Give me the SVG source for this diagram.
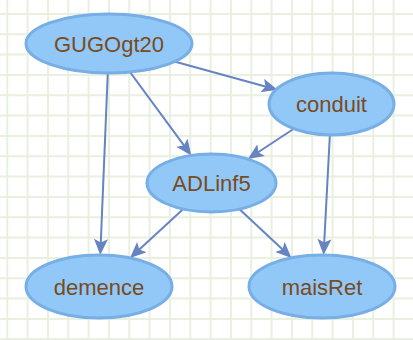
<svg xmlns="http://www.w3.org/2000/svg" width="413" height="340" viewBox="0 0 413 340">
<style>
.grid{stroke:#e9f0df;stroke-width:2;fill:none}
.node ellipse{fill:#92c8f8;stroke:#77aee5;stroke-width:3}
.node text{font-family:"Liberation Sans",Arial,sans-serif;font-size:22px;fill:#7a4b1c;text-anchor:middle}
.edge{stroke:#6683c2;stroke-width:2;fill:none;marker-end:url(#arrow)}
</style>
<defs>
<marker id="arrow" markerUnits="userSpaceOnUse" markerWidth="17" markerHeight="15" refX="6" refY="7" orient="auto" viewBox="0 0 17 15">
<path d="M0,0 L16,7 L0,14 L3.5,7 z" fill="#6683c2"/>
</marker>
</defs>
<rect width="413" height="340" fill="#ffffff"/>
<path class="grid" d="M7.3,0V340M27.6,0V340M48,0V340M68.3,0V340M88.6,0V340M109,0V340M129.3,0V340M149.6,0V340M170,0V340M190.3,0V340M210.6,0V340M231,0V340M251.3,0V340M271.6,0V340M292,0V340M312.3,0V340M332.6,0V340M353,0V340M373.3,0V340M393.6,0V340M0,14H413M0,34.3H413M0,54.6H413M0,75H413M0,95.3H413M0,115.6H413M0,136H413M0,156.3H413M0,176.6H413M0,197H413M0,217.3H413M0,237.6H413M0,258H413M0,278.3H413M0,298.6H413M0,319H413M0,339H413"/>
<g id="edges">
<line class="edge" x1="109" y1="43.5" x2="268" y2="87.2"/>
<line class="edge" x1="109" y1="43.5" x2="185.4" y2="147.4"/>
<line class="edge" x1="109" y1="43.5" x2="100.7" y2="245"/>
<line class="edge" x1="331.5" y1="104" x2="256.2" y2="153.5"/>
<line class="edge" x1="331.5" y1="104" x2="324.1" y2="245"/>
<line class="edge" x1="211.5" y1="183" x2="137.4" y2="251.2"/>
<line class="edge" x1="211.5" y1="183" x2="284.2" y2="251.1"/>
</g>
<g id="GUGOgt20" class="node"><ellipse cx="109" cy="43.5" rx="83" ry="29.5"/><text x="109" y="51.5">GUGOgt20</text></g>
<g id="conduit" class="node"><ellipse cx="331.5" cy="104" rx="62.5" ry="31"/><text x="331.5" y="112">conduit</text></g>
<g id="ADLinf5" class="node"><ellipse cx="211.5" cy="183" rx="64.5" ry="29"/><text x="211.5" y="191">ADLinf5</text></g>
<g id="demence" class="node"><ellipse cx="99" cy="286.5" rx="73" ry="31.5"/><text x="99" y="294.5">demence</text></g>
<g id="maisRet" class="node"><ellipse cx="322" cy="286.5" rx="73" ry="31.5"/><text x="322" y="294.5">maisRet</text></g>
</svg>
